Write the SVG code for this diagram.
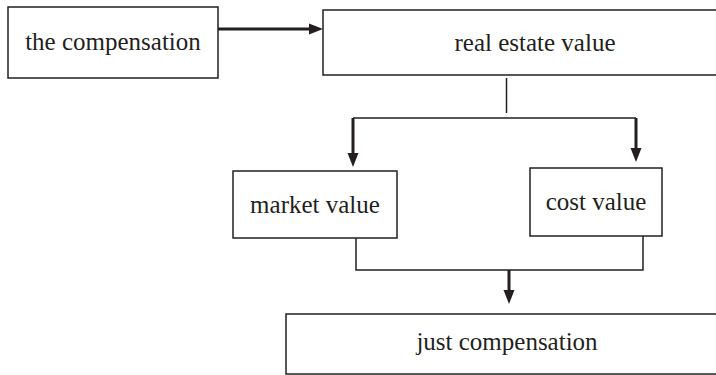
<svg xmlns="http://www.w3.org/2000/svg" width="716" height="375" viewBox="0 0 716 375">
<style>
.box{fill:#fff;stroke:#231f20;stroke-width:1.5}
.lbl{font-size:25px;fill:#231f20;text-anchor:middle}
.thin{fill:none;stroke:#231f20;stroke-width:1.5}
.thick{fill:none;stroke:#231f20;stroke-width:3}
.head{fill:#231f20}
</style>
<rect width="716" height="375" fill="#fff"/>
<g id="connectors">
<line class="thick" x1="218" y1="29" x2="310" y2="29"/>
<polygon class="head" points="323,29 309,23.5 309,34.5"/>
<line class="thin" x1="506.5" y1="78" x2="506.5" y2="113"/>
<polyline class="thin" points="353,118 636,118"/>
<line class="thick" x1="353" y1="118" x2="353" y2="155"/>
<polygon class="head" points="353,167 347.5,153 358.5,153"/>
<line class="thick" x1="636" y1="118" x2="636" y2="150"/>
<polygon class="head" points="636,162 630.5,148 641.5,148"/>
<polyline class="thin" points="356,238 356,270 643,270 643,236"/>
<line class="thick" x1="509" y1="270" x2="509" y2="292"/>
<polygon class="head" points="509,304 503.5,290 514.5,290"/>
</g>
<g id="the-compensation">
<rect class="box" x="8" y="7" width="210" height="71"/>
<text class="lbl" font-family="'Liberation Serif', 'DejaVu Serif', serif" x="113" y="50">the compensation</text>
</g>
<g id="real-estate-value">
<rect class="box" x="323" y="10" width="400" height="65"/>
<text class="lbl" font-family="'Liberation Serif', 'DejaVu Serif', serif" x="535" y="51">real estate value</text>
</g>
<g id="market-value">
<rect class="box" x="233" y="171" width="164" height="67"/>
<text class="lbl" font-family="'Liberation Serif', 'DejaVu Serif', serif" x="315" y="213">market value</text>
</g>
<g id="cost-value">
<rect class="box" x="530" y="168" width="132" height="68"/>
<text class="lbl" font-family="'Liberation Serif', 'DejaVu Serif', serif" x="596" y="210">cost value</text>
</g>
<g id="just-compensation">
<rect class="box" x="286" y="314" width="440" height="60"/>
<text class="lbl" font-family="'Liberation Serif', 'DejaVu Serif', serif" x="507" y="350">just compensation</text>
</g>
</svg>
